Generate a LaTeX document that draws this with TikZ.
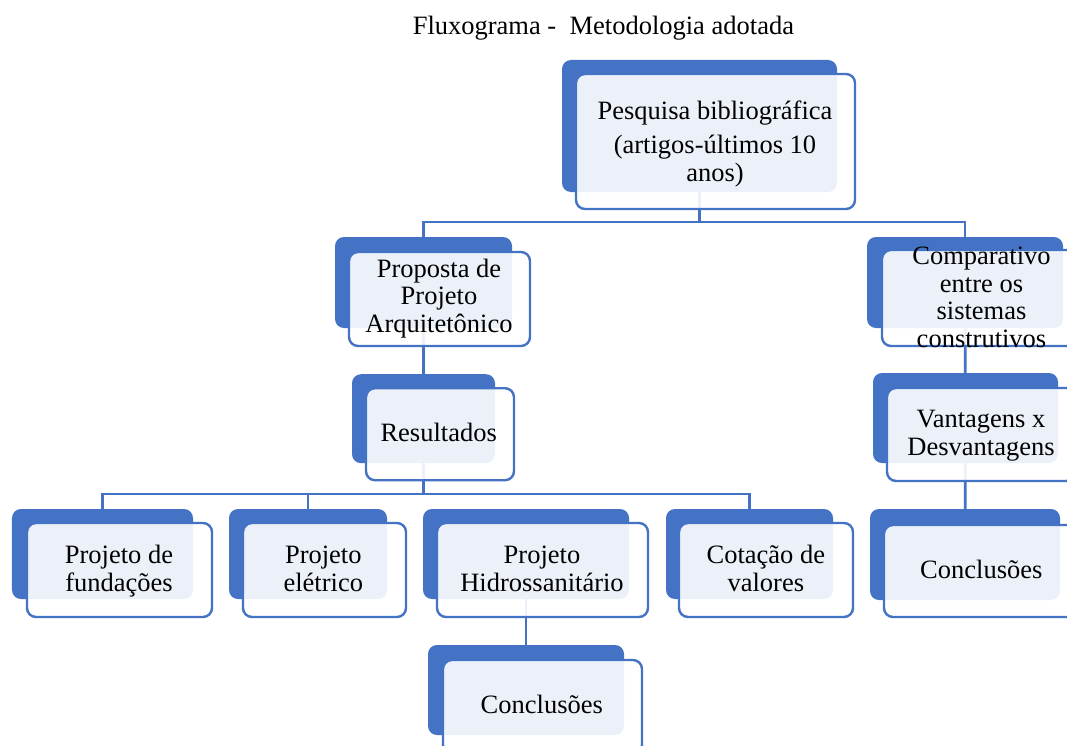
\documentclass[tikz,border=0pt]{standalone}
\usepackage{fontspec}
\setmainfont{Liberation Serif}
\usetikzlibrary{backgrounds}
\definecolor{accent}{HTML}{4472C4}
\begin{document}
\begin{tikzpicture}[x=1bp,y=-1bp,
  back/.style={fill=accent, rounded corners=9bp, inner sep=0pt, outer sep=0pt},
  front/.style={fill=white, fill opacity=0.9, draw=accent, line width=2.4bp, rounded corners=9bp, inner sep=0pt, outer sep=0pt},
  conn/.style={draw=accent, line width=2.8bp},
  txt/.style={font=\fontsize{26.5bp}{27.5bp}\selectfont, align=center, inner sep=0pt, anchor=base, text=black}]
\useasboundingbox (0,0) rectangle (1067,746);
\clip (0,0) rectangle (1067,746);

% title
\node[txt] (title) at (603.4,35) {Fluxograma -\ \ Metodologia adotada};

% root
\node[back, minimum width=275bp, minimum height=132bp] (rootB) at (699.5,126) {};
\node[front, minimum width=279bp, minimum height=135bp] (rootF) at (715.5,141.5) {};
\node[txt] (rootT) at (715,181) {Pesquisa bibliográfica\\[6.5bp](artigos-últimos 10\\anos)};

% proposta
\node[back, minimum width=177bp, minimum height=91bp] (propB) at (423.5,282.5) {};
\node[front, minimum width=181bp, minimum height=94bp] (propF) at (439.5,299) {};
\node[txt] (propT) at (439,332) {Proposta de\\Projeto\\Arquitetônico};

% comparativo
\node[back, minimum width=196bp, minimum height=91bp] (compB) at (965,282.5) {};
\node[front, minimum width=199bp, minimum height=96bp] (compF) at (981.5,298) {};
\node[txt] (compT) at (981.5,347) {Comparativo\\entre os\\sistemas\\construtivos};

% resultados
\node[back, minimum width=143bp, minimum height=89bp] (resB) at (423.5,418.7) {};
\node[front, minimum width=148bp, minimum height=92bp] (resF) at (440,434.2) {};
\node[txt] (resT) at (438.7,441.7) {Resultados};

% vantagens
\node[back, minimum width=185bp, minimum height=90bp] (vantB) at (965.5,418) {};
\node[front, minimum width=188bp, minimum height=93bp] (vantF) at (981,434.5) {};
\node[txt] (vantT) at (981,455) {Vantagens x\\Desvantagens};

% conclusoes (right)
\node[back, minimum width=190bp, minimum height=91bp] (concRB) at (965,554.5) {};
\node[front, minimum width=194bp, minimum height=92bp] (concRF) at (981,571) {};
\node[txt] (concRT) at (981.3,578.3) {Conclusões};

% bottom row
\node[back, minimum width=181bp, minimum height=90bp] (fundB) at (102.5,554) {};
\node[front, minimum width=185bp, minimum height=94bp] (fundF) at (119.5,570) {};
\node[txt] (fundT) at (119,591) {Projeto de\\fundações};

\node[back, minimum width=158bp, minimum height=90bp] (eleB) at (308,554) {};
\node[front, minimum width=163bp, minimum height=94bp] (eleF) at (324.5,570) {};
\node[txt] (eleT) at (323.3,591) {Projeto\\elétrico};

\node[back, minimum width=206bp, minimum height=90bp] (hidB) at (526,554) {};
\node[front, minimum width=211bp, minimum height=94bp] (hidF) at (542.5,570) {};
\node[txt] (hidT) at (542,591) {Projeto\\Hidrossanitário};

\node[back, minimum width=167bp, minimum height=90bp] (cotB) at (749.5,554) {};
\node[front, minimum width=174bp, minimum height=94bp] (cotF) at (766,570) {};
\node[txt] (cotT) at (765.8,591) {Cotação de\\valores};

% conclusoes (bottom)
\node[back, minimum width=196bp, minimum height=90bp] (concBB) at (526,690) {};
\node[front, minimum width=199bp, minimum height=94bp] (concBF) at (542.5,707) {};
\node[txt] (concBT) at (541.8,713.3) {Conclusões};

\begin{pgfonlayer}{background}
  \fill[white] (0,0) rectangle (1067,746);
  \coordinate (bus1) at (0,222);
  \coordinate (bus2) at (0,494);
  \draw[conn] (rootB.center) -- (rootB.center |- bus1);
  \draw[conn] (propB.center) -- (propB.center |- bus1) -- (compB.center |- bus1) -- (compB.center);
  \draw[conn] (propB.center) -- (resB.center);
  \draw[conn] (resB.center) -- (resB.center |- bus2);
  \draw[conn] (fundB.center) -- (fundB.center |- bus2) -- (cotB.center |- bus2) -- (cotB.center);
  \draw[conn] (eleB.center) -- (eleB.center |- bus2);
  \draw[conn] (hidB.center) -- (concBB.center);
  \draw[conn] (compB.center) -- (vantB.center) -- (concRB.center);
\end{pgfonlayer}
\end{tikzpicture}
\end{document}
